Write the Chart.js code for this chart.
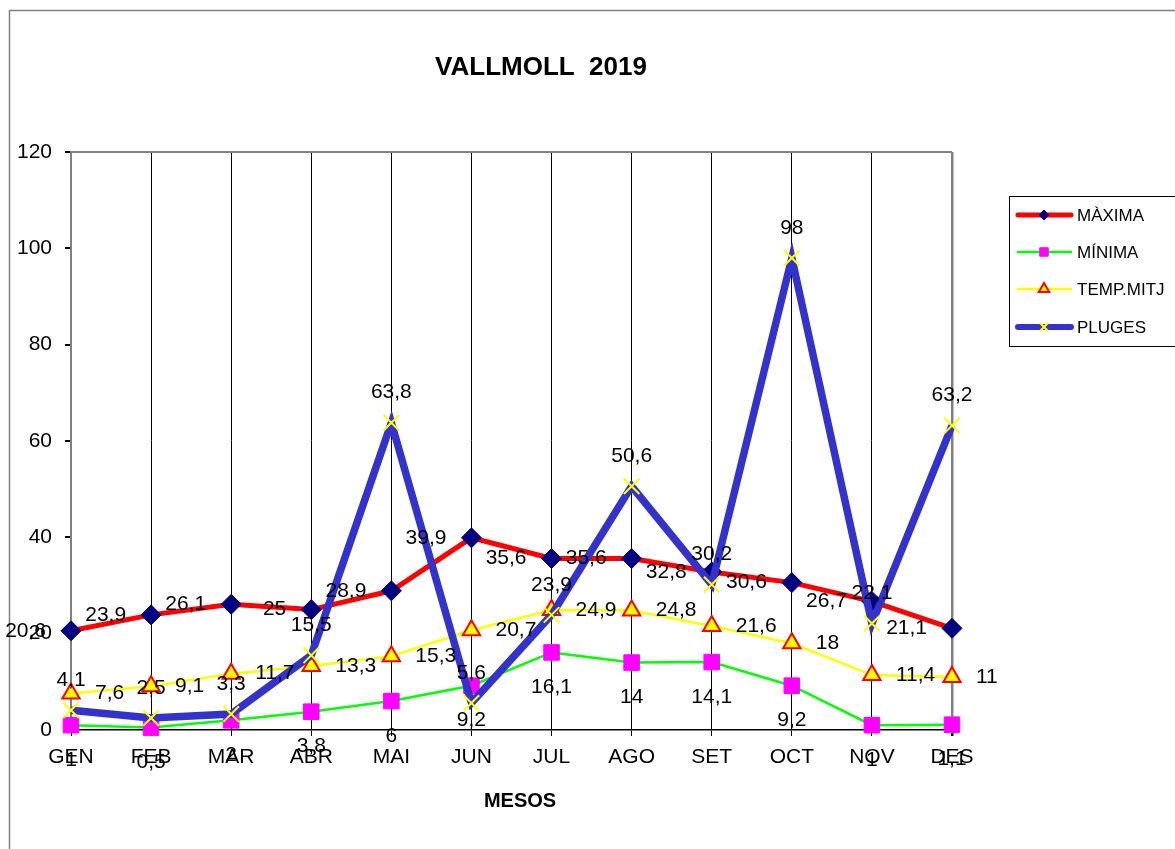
<!DOCTYPE html>
<html>
<head>
<meta charset="utf-8">
<script src="https://cdn.jsdelivr.net/npm/chart.js@4.4.0/dist/chart.umd.min.js"></script>
<style>
  html, body { margin: 0; padding: 0; background: #fff; }
  #wrap { width: 1175px; height: 849px; }
</style>
</head>
<body>
<div id="wrap"><canvas id="c" width="1175" height="849"></canvas></div>
<script>
const titleText = 'VALLMOLL  2019';
const xAxisTitle = 'MESOS';
const months = ['GEN', 'FEB', 'MAR', 'ABR', 'MAI', 'JUN', 'JUL', 'AGO', 'SET', 'OCT', 'NOV', 'DES'];
const maxima = [20.6, 23.9, 26.1, 25, 28.9, 39.9, 35.6, 35.6, 32.8, 30.6, 26.7, 21.1];
const minima = [1, 0.5, 2, 3.8, 6, 9.2, 16.1, 14, 14.1, 9.2, 1, 1.1];
const tempMitja = [7.6, 9.1, 11.7, 13.3, 15.3, 20.7, 24.9, 24.8, 21.6, 18, 11.4, 11];
const pluges = [4.1, 2.5, 3.3, 15.5, 63.8, 5.6, 23.9, 50.6, 30.2, 98, 22.1, 63.2];
const yTicks = [0, 20, 40, 60, 80, 100, 120];

const FONT = '"Liberation Sans", Arial, sans-serif';

const datasets = [
  { label: 'MÀXIMA', data: maxima, borderColor: '#FF0000', borderWidth: 5,
    pointStyle: 'rectRot', pointRadius: 10, pointBackgroundColor: '#000080', pointBorderColor: '#000080', pointBorderWidth: 1,
    order: 1, lblPos: 'left' },
  { label: 'MÍNIMA', data: minima, borderColor: '#00FF00', borderWidth: 2.5,
    pointStyle: 'rect', pointRadius: 11, pointBackgroundColor: '#FF00FF', pointBorderColor: '#FF00FF', pointBorderWidth: 1,
    order: 3, lblPos: 'below' },
  { label: 'TEMP.MITJ', data: tempMitja, borderColor: '#FFFF00', borderWidth: 2.5,
    pointStyle: 'triangle', pointRadius: 10, pointBackgroundColor: '#FFFF00', pointBorderColor: '#FF0000', pointBorderWidth: 2,
    order: 2, lblPos: 'right' },
  { label: 'PLUGES', data: pluges, borderColor: '#3333CC', borderWidth: 7.5,
    pointStyle: 'crossRot', pointRadius: 11, pointBackgroundColor: '#FFFF00', pointBorderColor: '#FFFF00', pointBorderWidth: 2,
    order: 0, lblPos: 'above' }
];
datasets.forEach(d => { d.tension = 0; d.fill = false; d.clip = false; d.pointHoverRadius = d.pointRadius; });

const fmt = v => String(v).replace('.', ',');

const decor = {
  id: 'decor',
  beforeDraw(chart) {
    const ctx = chart.ctx;
    ctx.save();
    ctx.fillStyle = '#fff';
    ctx.fillRect(0, 0, chart.width, chart.height);
    ctx.strokeStyle = '#808080';
    ctx.lineWidth = 1.5;
    ctx.strokeRect(9.5, 10.5, 1300, 1000);
    ctx.restore();
  },
  afterDatasetsDraw(chart) {
    const ctx = chart.ctx;
    ctx.save();
    ctx.font = '21px ' + FONT;
    ctx.fillStyle = '#000';
    chart.data.datasets.forEach((ds, i) => {
      const meta = chart.getDatasetMeta(i);
      meta.data.forEach((pt, j) => {
        const t = fmt(ds.data[j]);
        let x = pt.x, y = pt.y;
        ctx.textBaseline = 'middle';
        if (ds.lblPos === 'left') { ctx.textAlign = 'right'; x -= 25; }
        else if (ds.lblPos === 'right') { ctx.textAlign = 'left'; x += 24; }
        else if (ds.lblPos === 'above') { ctx.textAlign = 'center'; y -= 30; }
        else { ctx.textAlign = 'center'; y += 35; }
        ctx.fillText(t, x, y);
      });
    });
    ctx.restore();
  },
  afterDraw(chart) {
    const ctx = chart.ctx;
    ctx.save();
    // title
    ctx.font = 'bold 26px ' + FONT;
    ctx.fillStyle = '#000';
    ctx.textAlign = 'center';
    ctx.textBaseline = 'middle';
    ctx.fillText(titleText, 541, 68);
    // x axis title
    ctx.font = 'bold 20px ' + FONT;
    ctx.fillText(xAxisTitle, 520, 801);
    // legend
    ctx.strokeStyle = '#000';
    ctx.lineWidth = 1;
    ctx.strokeRect(1009.5, 196.5, 300, 150);
    const rows = [215, 252, 289, 327];
    const sizes = [5, 6, 6, 6];
    chart.data.datasets.forEach((ds, i) => {
      const y = rows[i];
      ctx.beginPath();
      ctx.strokeStyle = ds.borderColor;
      ctx.lineWidth = Math.min(ds.borderWidth, 6);
      ctx.lineCap = 'round';
      ctx.moveTo(1018, y);
      ctx.lineTo(1071, y);
      ctx.stroke();
      ctx.lineCap = 'butt';
      ctx.fillStyle = ds.pointBackgroundColor;
      ctx.strokeStyle = ds.pointBorderColor;
      ctx.lineWidth = ds.pointBorderWidth;
      Chart.helpers.drawPoint(ctx, { pointStyle: ds.pointStyle, radius: sizes[i], rotation: 0, borderWidth: ds.pointBorderWidth }, 1044, y);
      ctx.fillStyle = '#000';
      ctx.font = '17px ' + FONT;
      ctx.textAlign = 'left';
      ctx.textBaseline = 'middle';
      ctx.fillText(ds.label, 1077, y + 1);
    });
    ctx.restore();
  }
};

new Chart(document.getElementById('c'), {
  type: 'line',
  data: { labels: months, datasets },
  plugins: [decor],
  options: {
    responsive: false,
    animation: false,
    events: [],
    layout: { padding: { top: 152, right: 223, bottom: 0, left: 0 } },
    plugins: { legend: { display: false }, title: { display: false }, tooltip: { enabled: false } },
    scales: {
      x: {
        offset: false,
        afterFit(s) { s.height = 119; },
        grid: {
          color: c => c.index === 11 ? '#808080' : '#000',
          lineWidth: c => c.index === 11 ? 2.5 : 1,
          tickColor: '#000', tickLength: 6, drawOnChartArea: true
        },
        border: { color: '#000', width: 1.5 },
        ticks: { color: '#000', font: { family: FONT, size: 21 }, padding: 9, maxRotation: 0, autoSkip: false },
        title: { display: false }
      },
      y: {
        min: 0, max: 120,
        afterFit(s) { s.width = 71; },
        afterBuildTicks(s) { s.ticks = yTicks.map(v => ({ value: v })); },
        grid: {
          color: c => (c.tick && c.tick.value === 120) ? '#808080' : 'rgba(0,0,0,0)',
          lineWidth: 2, tickColor: '#000', tickLength: 6
        },
        border: { color: '#808080', width: 2 },
        ticks: { color: '#000', font: { family: FONT, size: 21 }, padding: 13 }
      }
    }
  }
});
</script>
</body>
</html>
